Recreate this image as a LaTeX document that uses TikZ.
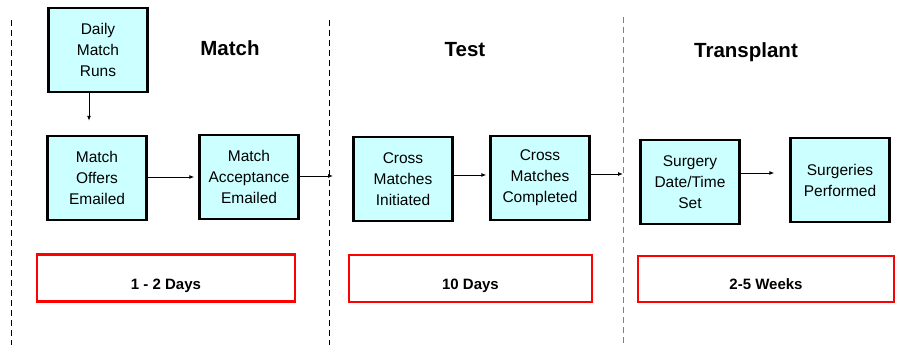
\documentclass[tikz,border=0pt]{standalone}
\usepackage{fontspec}
\setmainfont{Liberation Sans}
\usepackage{tikz}
\usetikzlibrary{positioning,arrows.meta}

\definecolor{stepfill}{RGB}{204,255,255}
\definecolor{spanred}{RGB}{255,0,0}

\begin{document}
\begin{tikzpicture}
		[x=1pt, y=-1pt,
		every node/.style={font=\fontsize{15.5}{21}\selectfont, align=center},
		stepbox/.style={rectangle, fill=stepfill, draw=black, line width=2.4pt,
			minimum width=99pt, minimum height=84pt, inner sep=1pt},
		spanbox/.style={rectangle, draw=spanred, line width=2.4pt,
			text height=22pt, text depth=0pt,
			font=\fontsize{15}{18}\selectfont\bfseries},
		phase/.style={font=\fontsize{20.5}{24}\selectfont\bfseries},
		divider/.style={dashed, dash pattern=on 6pt off 4pt, line width=0.9pt},
		flow/.style={-{Latex[length=5pt,width=4pt]}, line width=0.9pt},
		]
		\useasboundingbox (0,0) rectangle (899,347);
		
		% dividers
		\draw[divider] (11,20) -- (11,345);
		\draw[divider] (329,20) -- (329,345);
		\draw[divider, gray] (623,17) -- (623,345);
		\coordinate (D2) at (333,176);
		\coordinate (D3) at (623,174);
		
		% phases
		\node[phase] (match) at (230,48) {Match};
		\node[phase] (test) at (465,50) {Test};
		\node[phase] (transplant) at (746,52) {Transplant};
		
		% steps
		\node[stepbox] (runs) at (98,50) {Daily\\Match\\Runs};
		\node[stepbox] (offers) at (97,178) {Match\\Offers\\Emailed};
		\node[stepbox] (accept) at (249,177) {Match\\Acceptance\\Emailed};
		\node[stepbox] (initiated) at (403,179) {Cross\\Matches\\Initiated};
		\node[stepbox] (completed) at (540,178) {Cross\\Matches\\Completed};
		\node[stepbox] (surgset) at (690,182) {Surgery\\Date/Time\\Set};
		\node[stepbox] (performed) at (840,180) {Surgeries\\Performed};
		
		% durations
		\node[spanbox, minimum width=258pt, minimum height=47pt] (days12) at (166,278) {1 - 2 Days};
		\node[spanbox, minimum width=243pt, minimum height=47pt] (days10) at (470.5,278.5) {10 Days};
		\node[spanbox, minimum width=256pt, minimum height=46pt] (weeks) at (766,279) {2-5 Weeks};
		
		% flow
		\draw[flow, shorten >=14pt] (runs.south -| 89,0) -- (offers.north -| 89,0);
		\draw[flow, shorten >=4pt] (offers.east |- 0,177) -- (accept.west |- 0,177);
		\draw[flow] (accept.east |- D2) -- (D2);
		\draw[flow, shorten >=3pt] (initiated.east |- 0,175) -- (completed.west |- 0,175);
		\draw[flow] (completed.east |- D3) -- (D3);
		\draw[flow, shorten >=15pt] (surgset.east |- 0,173) -- (performed.west |- 0,173);
		
	\end{tikzpicture}
\end{document}
